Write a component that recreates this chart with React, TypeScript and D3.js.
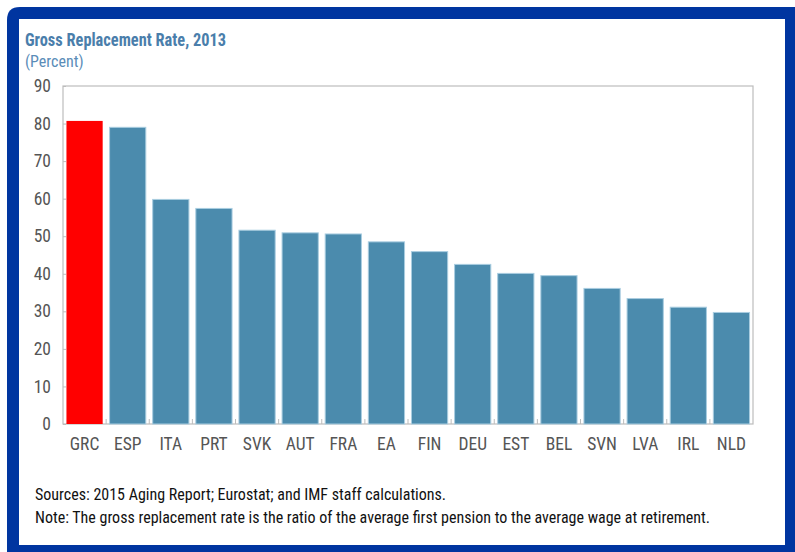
import { useEffect, useRef } from "react"
import * as d3 from "d3"

const countries = ["GRC", "ESP", "ITA", "PRT", "SVK", "AUT", "FRA", "EA", "FIN", "DEU", "EST", "BEL", "SVN", "LVA", "IRL", "NLD"]
const rates = [80.7, 79.0, 59.8, 57.4, 51.6, 50.9, 50.6, 48.5, 45.9, 42.5, 40.1, 39.5, 36.1, 33.4, 31.1, 29.7]
const highlighted = ["GRC"]
const yTicks = [0, 10, 20, 30, 40, 50, 60, 70, 80, 90]

const title = "Gross Replacement Rate, 2013"
const subtitle = "(Percent)"
const notes = [
    "Sources: 2015 Aging Report; Eurostat; and IMF staff calculations.",
    "Note: The gross replacement rate is the ratio of the average first pension to the average wage at retirement.",
]

const FONT = "'Roboto Condensed', 'Liberation Sans Narrow', Roboto, sans-serif"

export default function App() {
    const svgRef = useRef<SVGSVGElement>(null)

    useEffect(() => {
        if (!svgRef.current) return
        const W = 795, H = 552
        const margin = { top: 86, right: 42, bottom: 128, left: 63 }
        const innerW = W - margin.left - margin.right
        const innerH = H - margin.top - margin.bottom

        const svg = d3.select(svgRef.current)
        svg.selectAll("*").remove()
        svg.attr("width", W).attr("height", H)

        // frame
        svg.append("path")
            .attr("d", "M7,552 L7,20 Q7,7 20,7 L800,7 L800,552 Z")
            .attr("fill", "#0035a0")
        svg.append("rect")
            .attr("x", 19).attr("y", 19)
            .attr("width", 766).attr("height", 526)
            .attr("fill", "#fff")

        svg.append("text")
            .attr("x", 25).attr("y", 46)
            .attr("font-family", FONT)
            .attr("font-weight", "bold")
            .attr("font-size", 18.5)
            .attr("textLength", 201)
            .attr("lengthAdjust", "spacingAndGlyphs")
            .attr("fill", "#4a7eab")
            .text(title)
        svg.append("text")
            .attr("x", 25).attr("y", 67)
            .attr("font-family", FONT)
            .attr("font-size", 16)
            .attr("fill", "#5a8cb8")
            .text(subtitle)

        const g = svg.append("g").attr("transform", `translate(${margin.left},${margin.top})`)

        const x = d3.scaleBand<string>().domain(countries).range([0, innerW]).paddingInner(0.16).paddingOuter(0.08)
        const y = d3.scaleLinear().domain([0, 90]).range([innerH, 0])

        // plot box
        g.append("rect")
            .attr("width", innerW).attr("height", innerH)
            .attr("fill", "none")
            .attr("stroke", "#bdbdbd")
            .attr("stroke-width", 1.2)

        g.selectAll("rect.bar")
            .data(countries)
            .join("rect")
            .attr("class", "bar")
            .attr("x", d => x(d)!)
            .attr("y", (d, i) => y(rates[i]))
            .attr("width", x.bandwidth())
            .attr("height", (d, i) => innerH - y(rates[i]))
            .attr("fill", d => highlighted.includes(d) ? "#ff0000" : "#4b8bad")
            .attr("stroke", d => highlighted.includes(d) ? "none" : "#a9cde0")
            .attr("stroke-width", 1)

        // y axis
        const yAxis = g.append("g")
            .call(d3.axisLeft(y).tickValues(yTicks).tickSize(-3).tickPadding(12))
        yAxis.select(".domain").remove()
        yAxis.selectAll("line").attr("stroke", "#bdbdbd")
        yAxis.selectAll("text")
            .attr("font-family", FONT)
            .attr("font-size", 17.5)
            .attr("fill", "#555")

        // x axis
        const xAxis = g.append("g")
            .attr("transform", `translate(0,${innerH})`)
            .call(d3.axisBottom(x).tickSize(0).tickPadding(14))
        xAxis.select(".domain").remove()
        xAxis.selectAll("text")
            .attr("font-family", FONT)
            .attr("font-size", 17.5)
            .attr("fill", "#555")

        const step = x.step()
        g.append("g")
            .selectAll("line")
            .data(d3.range(1, countries.length))
            .join("line")
            .attr("x1", i => x(countries[i])! - step * x.paddingInner() / 2)
            .attr("x2", i => x(countries[i])! - step * x.paddingInner() / 2)
            .attr("y1", innerH)
            .attr("y2", innerH - 5)
            .attr("stroke", "#bdbdbd")

        svg.append("g")
            .selectAll("text")
            .data(notes)
            .join("text")
            .attr("x", 35)
            .attr("y", (d, i) => 500 + i * 23)
            .attr("font-family", FONT)
            .attr("font-size", 16)
            .attr("fill", "#111")
            .text(d => d)
    }, [])

    return <div style={{ position: "fixed", left: 0, top: 0 }}>
        <svg ref={svgRef} style={{ display: "block" }} />
    </div>
}
